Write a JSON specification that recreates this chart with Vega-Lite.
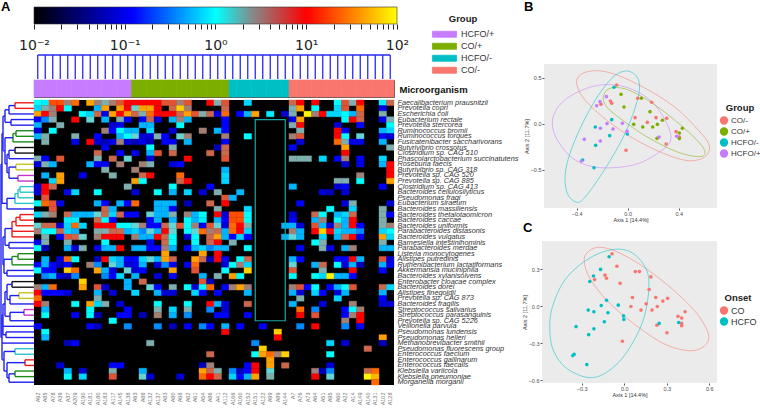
{"$schema":"https://vega.github.io/schema/vega-lite/v6.json","padding":0,"background":"white","config":{"font":"Liberation Sans","view":{"stroke":null},"axis":{"grid":false}},
"datasets":{
"samples":[{"s":"A92","g":"HCFO/+"},{"s":"A85","g":"HCFO/+"},{"s":"A78","g":"HCFO/+"},{"s":"A39","g":"HCFO/+"},{"s":"A37","g":"HCFO/+"},{"s":"A209","g":"HCFO/+"},{"s":"A190","g":"HCFO/+"},{"s":"A181","g":"HCFO/+"},{"s":"A180","g":"HCFO/+"},{"s":"A183","g":"HCFO/+"},{"s":"A117","g":"HCFO/+"},{"s":"A145","g":"HCFO/+"},{"s":"A138","g":"HCFO/+"},{"s":"A93","g":"CO/+"},{"s":"A88","g":"CO/+"},{"s":"A132","g":"CO/+"},{"s":"A137","g":"CO/+"},{"s":"A83","g":"CO/+"},{"s":"A80","g":"CO/+"},{"s":"A68","g":"CO/+"},{"s":"A62","g":"CO/+"},{"s":"A61","g":"CO/+"},{"s":"A54","g":"CO/+"},{"s":"A86","g":"CO/+"},{"s":"A41","g":"CO/+"},{"s":"A112","g":"CO/+"},{"s":"A166","g":"HCFO/-"},{"s":"A160","g":"HCFO/-"},{"s":"A152","g":"HCFO/-"},{"s":"A151","g":"HCFO/-"},{"s":"A122","g":"HCFO/-"},{"s":"A99","g":"HCFO/-"},{"s":"A89","g":"HCFO/-"},{"s":"A144","g":"HCFO/-"},{"s":"A7","g":"CO/-"},{"s":"A76","g":"CO/-"},{"s":"A73","g":"CO/-"},{"s":"A64","g":"CO/-"},{"s":"A51","g":"CO/-"},{"s":"A95","g":"CO/-"},{"s":"A60","g":"CO/-"},{"s":"A22","g":"CO/-"},{"s":"A14","g":"CO/-"},{"s":"A149","g":"CO/-"},{"s":"A140","g":"CO/-"},{"s":"A131","g":"CO/-"},{"s":"A102","g":"CO/-"},{"s":"A128","g":"CO/-"}],
"taxa":[{"r":1,"m":"Faecalibacterium prausnitzii"},{"r":2,"m":"Prevotella copri"},{"r":3,"m":"Escherichia coli"},{"r":4,"m":"Eubacterium rectale"},{"r":5,"m":"Prevotella stercorea"},{"r":6,"m":"Ruminococcus bromii"},{"r":7,"m":"Ruminococcus torques"},{"r":8,"m":"Fusicatenibacter saccharivorans"},{"r":9,"m":"Butyrivibrio crossotus"},{"r":10,"m":"Clostridium sp. CAG 510"},{"r":11,"m":"Phascolarctobacterium succinatutens"},{"r":12,"m":"Roseburia faecis"},{"r":13,"m":"Butyrivibrio sp. CAG 318"},{"r":14,"m":"Prevotella sp. CAG 520"},{"r":15,"m":"Prevotella sp. CAG 885"},{"r":16,"m":"Clostridium sp. CAG 413"},{"r":17,"m":"Bacteroides cellulosilyticus"},{"r":18,"m":"Pseudomonas fragi"},{"r":19,"m":"Eubacterium siraeum"},{"r":20,"m":"Bacteroides massiliensis"},{"r":21,"m":"Bacteroides thetaiotaomicron"},{"r":22,"m":"Bacteroides caccae"},{"r":23,"m":"Bacteroides uniformis"},{"r":24,"m":"Parabacteroides distasonis"},{"r":25,"m":"Bacteroides vulgatus"},{"r":26,"m":"Barnesiella intestinihominis"},{"r":27,"m":"Parabacteroides merdae"},{"r":28,"m":"Listeria monocytogenes"},{"r":29,"m":"Alistipes putredinis"},{"r":30,"m":"Ruthenibacterium lactatiformans"},{"r":31,"m":"Akkermansia muciniphila"},{"r":32,"m":"Bacteroides xylanisolvens"},{"r":33,"m":"Enterobacter cloacae complex"},{"r":34,"m":"Bacteroides dorei"},{"r":35,"m":"Alistipes finegoldii"},{"r":36,"m":"Prevotella sp. CAG 873"},{"r":37,"m":"Bacteroides fragilis"},{"r":38,"m":"Streptococcus salivarius"},{"r":39,"m":"Streptococcus parasanguinis"},{"r":40,"m":"Prevotella sp. CAG 5226"},{"r":41,"m":"Veillonella parvula"},{"r":42,"m":"Pseudomonas lundensis"},{"r":43,"m":"Pseudomonas helleri"},{"r":44,"m":"Methanobrevibacter smithii"},{"r":45,"m":"Pseudomonas fluorescens group"},{"r":46,"m":"Enterococcus faecium"},{"r":47,"m":"Enterococcus gallinarum"},{"r":48,"m":"Enterococcus faecalis"},{"r":49,"m":"Klebsiella variicola"},{"r":50,"m":"Klebsiella pneumoniae"},{"r":51,"m":"Morganella morganii"}],
"pts":[{"x":-0.086,"y":0.424,"g":"CO/-","o":"CO"},{"x":-0.209,"y":0.214,"g":"CO/-","o":"CO"},{"x":-0.136,"y":0.25,"g":"CO/-","o":"CO"},{"x":-0.125,"y":0.225,"g":"CO/-","o":"CO"},{"x":0.078,"y":0.279,"g":"CO/-","o":"CO"},{"x":0.188,"y":0.236,"g":"CO/-","o":"CO"},{"x":0.058,"y":0.069,"g":"CO/-","o":"CO"},{"x":0.222,"y":0.069,"g":"CO/-","o":"CO"},{"x":0.306,"y":0.062,"g":"CO/-","o":"CO"},{"x":0.154,"y":0.018,"g":"CO/-","o":"CO"},{"x":0.379,"y":-0.083,"g":"CO/-","o":"CO"},{"x":0.405,"y":-0.141,"g":"CO/-","o":"CO"},{"x":0.301,"y":-0.217,"g":"CO/-","o":"CO"},{"x":-0.013,"y":-0.286,"g":"CO/-","o":"CO"},{"x":-0.052,"y":0.322,"g":"CO/+","o":"CO"},{"x":0.107,"y":0.279,"g":"CO/+","o":"CO"},{"x":-0.029,"y":0.185,"g":"CO/+","o":"CO"},{"x":0.175,"y":0.134,"g":"CO/+","o":"CO"},{"x":0.272,"y":0.04,"g":"CO/+","o":"CO"},{"x":0.047,"y":-0.004,"g":"CO/+","o":"CO"},{"x":0.233,"y":-0.004,"g":"CO/+","o":"CO"},{"x":0.118,"y":-0.033,"g":"CO/+","o":"CO"},{"x":0.196,"y":-0.033,"g":"CO/+","o":"CO"},{"x":0.429,"y":-0.047,"g":"CO/+","o":"CO"},{"x":0.405,"y":-0.098,"g":"CO/+","o":"CO"},{"x":0.23,"y":-0.156,"g":"CO/+","o":"CO"},{"x":0.405,"y":-0.159,"g":"CO/+","o":"CO"},{"x":-0.107,"y":0.399,"g":"HCFO/-","o":"HCFO"},{"x":-0.125,"y":0.047,"g":"HCFO/-","o":"HCFO"},{"x":-0.254,"y":-0.033,"g":"HCFO/-","o":"HCFO"},{"x":-0.141,"y":-0.127,"g":"HCFO/-","o":"HCFO"},{"x":-0.003,"y":-0.109,"g":"HCFO/-","o":"HCFO"},{"x":-0.251,"y":-0.232,"g":"HCFO/-","o":"HCFO"},{"x":-0.353,"y":-0.391,"g":"HCFO/-","o":"HCFO"},{"x":-0.264,"y":-0.475,"g":"HCFO/-","o":"HCFO"},{"x":-0.217,"y":0.243,"g":"HCFO/+","o":"HCFO"},{"x":-0.167,"y":0.297,"g":"HCFO/+","o":"HCFO"},{"x":-0.243,"y":0.199,"g":"HCFO/+","o":"HCFO"},{"x":-0.162,"y":0.004,"g":"HCFO/+","o":"HCFO"},{"x":-0.042,"y":0.007,"g":"HCFO/+","o":"HCFO"},{"x":-0.214,"y":-0.047,"g":"HCFO/+","o":"HCFO"},{"x":-0.115,"y":-0.054,"g":"HCFO/+","o":"HCFO"},{"x":-0.005,"y":-0.08,"g":"HCFO/+","o":"HCFO"},{"x":-0.214,"y":-0.185,"g":"HCFO/+","o":"HCFO"},{"x":-0.34,"y":-0.167,"g":"HCFO/+","o":"HCFO"},{"x":-0.363,"y":-0.402,"g":"HCFO/+","o":"HCFO"},{"x":0.246,"y":-0.141,"g":"HCFO/+","o":"HCFO"},{"x":0.384,"y":-0.134,"g":"HCFO/+","o":"HCFO"}]
},
"spacing":0,"bounds":"flush","resolve":{"scale":{"color":"independent","stroke":"independent"}},"hconcat":[
{"spacing":0,"bounds":"flush","resolve":{"scale":{"color":"independent","stroke":"independent"}},"vconcat":[
 {"title":{"text":"A","fontSize":13,"fontWeight":"bold","anchor":"start","offset":-14,"dx":1,"color":"black"},"width":34,"height":100,"data":{"values":[{}]},"mark":{"type":"point","opacity":0},"encoding":{}},
 {"width":34,"height":285,"data":{"values":[
{"a":15,"b":15,"p":1,"q":2,"c":"red"},{"a":15,"b":34,"p":1,"q":1,"c":"red"},{"a":15,"b":34,"p":2,"q":2,"c":"red"},
{"a":9,"b":15,"p":1.5,"q":1.5,"c":"blue"},{"a":9,"b":9,"p":1.5,"q":3,"c":"blue"},{"a":9,"b":34,"p":3,"q":3,"c":"blue"},{"a":11,"b":11,"p":4,"q":5,"c":"blue"},{"a":11,"b":34,"p":4,"q":4,"c":"blue"},{"a":11,"b":34,"p":5,"q":5,"c":"blue"},{"a":5,"b":5,"p":2.25,"q":4.5,"c":"blue"},{"a":5,"b":9,"p":2.25,"q":2.25,"c":"blue"},{"a":5,"b":11,"p":4.5,"q":4.5,"c":"blue"},
{"a":16,"b":16,"p":6,"q":7,"c":"green"},{"a":16,"b":34,"p":6,"q":6,"c":"green"},{"a":16,"b":34,"p":7,"q":7,"c":"green"},{"a":13,"b":16,"p":6.5,"q":6.5,"c":"green"},{"a":13,"b":13,"p":6.5,"q":8,"c":"green"},{"a":13,"b":34,"p":8,"q":8,"c":"green"},
{"a":15,"b":15,"p":9,"q":10,"c":"black"},{"a":15,"b":34,"p":9,"q":9,"c":"black"},{"a":15,"b":34,"p":10,"q":10,"c":"black"},{"a":9,"b":15,"p":9.5,"q":9.5,"c":"blue"},{"a":9,"b":9,"p":9.5,"q":11,"c":"blue"},{"a":9,"b":34,"p":11,"q":11,"c":"blue"},
{"a":16,"b":16,"p":12,"q":13,"c":"olive"},{"a":16,"b":34,"p":12,"q":12,"c":"olive"},{"a":16,"b":34,"p":13,"q":13,"c":"olive"},{"a":18,"b":18,"p":14,"q":15,"c":"magenta"},{"a":18,"b":34,"p":14,"q":14,"c":"magenta"},{"a":18,"b":34,"p":15,"q":15,"c":"magenta"},{"a":9,"b":9,"p":12.5,"q":14.5,"c":"blue"},{"a":9,"b":16,"p":12.5,"q":12.5,"c":"blue"},{"a":9,"b":18,"p":14.5,"q":14.5,"c":"blue"},
{"a":7,"b":7,"p":10.25,"q":13.5,"c":"blue"},{"a":7,"b":9,"p":10.25,"q":10.25,"c":"blue"},{"a":7,"b":9,"p":13.5,"q":13.5,"c":"blue"},{"a":5,"b":5,"p":7.25,"q":11.9,"c":"blue"},{"a":5,"b":13,"p":7.25,"q":7.25,"c":"blue"},{"a":5,"b":7,"p":11.9,"q":11.9,"c":"blue"},{"a":3,"b":3,"p":3.4,"q":9.6,"c":"blue"},{"a":3,"b":5,"p":3.4,"q":3.4,"c":"blue"},{"a":3,"b":5,"p":9.6,"q":9.6,"c":"blue"},
{"a":20,"b":20,"p":16,"q":17,"c":"cyan"},{"a":20,"b":34,"p":16,"q":16,"c":"cyan"},{"a":20,"b":34,"p":17,"q":17,"c":"cyan"},{"a":18,"b":20,"p":16.5,"q":16.5,"c":"cyan"},{"a":18,"b":18,"p":16.5,"q":18,"c":"cyan"},{"a":18,"b":34,"p":18,"q":18,"c":"cyan"},{"a":15,"b":18,"p":17.25,"q":17.25,"c":"cyan"},{"a":15,"b":15,"p":17.25,"q":19,"c":"cyan"},{"a":15,"b":34,"p":19,"q":19,"c":"cyan"},{"a":7,"b":15,"p":18.1,"q":18.1,"c":"blue"},{"a":7,"b":7,"p":18.1,"q":20,"c":"blue"},{"a":7,"b":34,"p":20,"q":20,"c":"blue"},{"a":2,"b":2,"p":6.5,"q":19,"c":"blue"},{"a":2,"b":3,"p":6.5,"q":6.5,"c":"blue"},{"a":2,"b":7,"p":19,"q":19,"c":"blue"},
{"a":20,"b":20,"p":21,"q":22,"c":"red"},{"a":20,"b":34,"p":21,"q":21,"c":"red"},{"a":20,"b":34,"p":22,"q":22,"c":"red"},{"a":16,"b":20,"p":21.5,"q":21.5,"c":"red"},{"a":16,"b":16,"p":21.5,"q":23,"c":"red"},{"a":16,"b":34,"p":23,"q":23,"c":"red"},{"a":12,"b":16,"p":22.25,"q":22.25,"c":"red"},{"a":12,"b":12,"p":22.25,"q":25,"c":"red"},{"a":12,"b":34,"p":24,"q":24,"c":"red"},{"a":12,"b":34,"p":25,"q":25,"c":"red"},
{"a":9,"b":9,"p":26,"q":27,"c":"blue"},{"a":9,"b":34,"p":26,"q":26,"c":"blue"},{"a":9,"b":34,"p":27,"q":27,"c":"blue"},{"a":5,"b":5,"p":23.5,"q":26.5,"c":"blue"},{"a":5,"b":12,"p":23.5,"q":23.5,"c":"blue"},{"a":5,"b":9,"p":26.5,"q":26.5,"c":"blue"},
{"a":18,"b":18,"p":28,"q":29,"c":"green"},{"a":18,"b":34,"p":28,"q":28,"c":"green"},{"a":18,"b":34,"p":29,"q":29,"c":"green"},{"a":12,"b":18,"p":28.5,"q":28.5,"c":"green"},{"a":12,"b":12,"p":28.5,"q":30,"c":"green"},{"a":12,"b":34,"p":30,"q":30,"c":"green"},
{"a":7,"b":7,"p":31,"q":32,"c":"blue"},{"a":7,"b":34,"p":31,"q":31,"c":"blue"},{"a":7,"b":34,"p":32,"q":32,"c":"blue"},{"a":4,"b":4,"p":29,"q":31.5,"c":"blue"},{"a":4,"b":12,"p":29,"q":29,"c":"blue"},{"a":4,"b":7,"p":31.5,"q":31.5,"c":"blue"},{"a":3,"b":3,"p":25,"q":30,"c":"blue"},{"a":3,"b":5,"p":25,"q":25,"c":"blue"},{"a":3,"b":4,"p":30,"q":30,"c":"blue"},
{"a":12,"b":12,"p":33,"q":34,"c":"black"},{"a":12,"b":34,"p":33,"q":33,"c":"black"},{"a":12,"b":34,"p":34,"q":34,"c":"black"},{"a":19,"b":19,"p":35,"q":36,"c":"olive"},{"a":19,"b":34,"p":35,"q":35,"c":"olive"},{"a":19,"b":34,"p":36,"q":36,"c":"olive"},{"a":10,"b":10,"p":35.5,"q":37,"c":"blue"},{"a":10,"b":19,"p":35.5,"q":35.5,"c":"blue"},{"a":10,"b":34,"p":37,"q":37,"c":"blue"},{"a":7,"b":7,"p":33.5,"q":36.2,"c":"blue"},{"a":7,"b":12,"p":33.5,"q":33.5,"c":"blue"},{"a":7,"b":10,"p":36.2,"q":36.2,"c":"blue"},
{"a":24,"b":24,"p":38,"q":39,"c":"magenta"},{"a":24,"b":34,"p":38,"q":38,"c":"magenta"},{"a":24,"b":34,"p":39,"q":39,"c":"magenta"},{"a":10,"b":10,"p":38.5,"q":40,"c":"blue"},{"a":10,"b":24,"p":38.5,"q":38.5,"c":"blue"},{"a":10,"b":34,"p":40,"q":40,"c":"blue"},{"a":5,"b":5,"p":34.8,"q":39.2,"c":"blue"},{"a":5,"b":7,"p":34.8,"q":34.8,"c":"blue"},{"a":5,"b":10,"p":39.2,"q":39.2,"c":"blue"},
{"a":3,"b":34,"p":41,"q":41,"c":"blue"},{"a":6,"b":6,"p":42,"q":43,"c":"blue"},{"a":6,"b":34,"p":42,"q":42,"c":"blue"},{"a":6,"b":34,"p":43,"q":43,"c":"blue"},{"a":3,"b":3,"p":37,"q":42.5,"c":"blue"},{"a":3,"b":5,"p":37,"q":37,"c":"blue"},{"a":3,"b":6,"p":42.5,"q":42.5,"c":"blue"},
{"a":2,"b":34,"p":44,"q":44,"c":"blue"},{"a":15,"b":15,"p":45,"q":46,"c":"cyan"},{"a":15,"b":34,"p":45,"q":45,"c":"cyan"},{"a":15,"b":34,"p":46,"q":46,"c":"cyan"},{"a":25,"b":25,"p":47,"q":48,"c":"red"},{"a":25,"b":34,"p":47,"q":47,"c":"red"},{"a":25,"b":34,"p":48,"q":48,"c":"red"},{"a":15,"b":15,"p":49,"q":50,"c":"green"},{"a":15,"b":34,"p":49,"q":49,"c":"green"},{"a":15,"b":34,"p":50,"q":50,"c":"green"},{"a":9,"b":9,"p":49.5,"q":51,"c":"blue"},{"a":9,"b":15,"p":49.5,"q":49.5,"c":"blue"},{"a":9,"b":34,"p":51,"q":51,"c":"blue"},{"a":7,"b":7,"p":47.5,"q":50.2,"c":"blue"},{"a":7,"b":25,"p":47.5,"q":47.5,"c":"blue"},{"a":7,"b":9,"p":50.2,"q":50.2,"c":"blue"},{"a":4,"b":4,"p":45.5,"q":49,"c":"blue"},{"a":4,"b":15,"p":45.5,"q":45.5,"c":"blue"},{"a":4,"b":7,"p":49,"q":49,"c":"blue"},{"a":2,"b":2,"p":39,"q":47,"c":"blue"},{"a":2,"b":3,"p":39,"q":39,"c":"blue"},{"a":2,"b":4,"p":47,"q":47,"c":"blue"},{"a":1,"b":1,"p":12,"q":43,"c":"blue"},{"a":1,"b":2,"p":12,"q":12,"c":"blue"},{"a":1,"b":2,"p":43,"q":43,"c":"blue"}
 ]},"mark":{"type":"rule","strokeWidth":1.4},"encoding":{"x":{"field":"a","type":"quantitative","scale":{"domain":[0,34]},"axis":null},"x2":{"field":"b"},"y":{"field":"p","type":"quantitative","scale":{"domain":[51.5,0.5]},"axis":null},"y2":{"field":"q"},"color":{"field":"c","type":"nominal","legend":null,"scale":{"domain":["blue","red","green","black","olive","magenta","cyan"],"range":["#2020f0","#f01a1a","#1a8c1a","#111111","#c4c41e","#c832c8","#2cc4c8"]}}}}
]},
{"width":34,"height":10,"data":{"values":[{}]},"mark":{"type":"point","opacity":0},"encoding":{}},
{"spacing":0,"bounds":"flush","resolve":{"scale":{"color":"independent","stroke":"independent"}},"vconcat":[
 {"width":363,"height":7,"data":{"values":[{}]},"mark":{"type":"point","opacity":0},"encoding":{}},
 {"width":363,"height":17,"data":{"values":[{"lo":0.01,"hi":100}]},"mark":{"type":"rect","stroke":"#333","strokeWidth":0.6,"color":{"gradient":"linear","x1":0,"x2":1,"y1":0,"y2":0,"stops":[{"offset":0,"color":"#000000"},{"offset":0.27,"color":"#0000ff"},{"offset":0.5,"color":"#00ffff"},{"offset":0.603,"color":"#888888"},{"offset":0.75,"color":"#ff0000"},{"offset":1,"color":"#ffff00"}]}},"encoding":{"x":{"field":"lo","type":"quantitative","scale":{"type":"log","domain":[0.01,100]},"axis":{"title":null,"domain":false,"tickSize":5,"tickColor":"#222","values":[0.01,0.02,0.03,0.04,0.05,0.06,0.07,0.08,0.09,0.1,0.2,0.3,0.4,0.5,0.6,0.7,0.8,0.9,1,2,3,4,5,6,7,8,9,10,20,30,40,50,60,70,80,90,100],"labelExpr":"datum.value==0.01?'10⁻²':datum.value==0.1?'10⁻¹':datum.value==1?'10⁰':datum.value==10?'10¹':datum.value==100?'10²':''","labelFontSize":14,"labelFont":"DejaVu Sans","labelColor":"#222","labelPadding":9,"labelOverlap":false,"labelFlush":false,"encoding":{"ticks":{"update":{"y2":{"signal":"abs(log(datum.value)/LN10-round(log(datum.value)/LN10))<0.001?9:5"}}}}}},"x2":{"field":"hi"}}},
 {"width":363,"height":31,"data":{"values":[{}]},"mark":{"type":"point","opacity":0},"encoding":{}},
 {"width":360,"height":24,"layer":[
  {"data":{"name":"samples"},"mark":{"type":"rule","color":"#2a2af5","strokeWidth":1.3},"encoding":{"x":{"field":"s","type":"nominal","sort":null,"axis":null,"scale":{"paddingInner":0,"paddingOuter":0}}}},
  {"data":{"values":[{"a":"A92","b":"A128"}]},"mark":{"type":"rule","color":"#2a2af5","strokeWidth":1.3},"encoding":{"x":{"field":"a","type":"nominal","sort":null,"axis":null},"x2":{"field":"b"},"y":{"value":0}}}
 ]},
 {"width":360,"height":1,"data":{"values":[{}]},"mark":{"type":"point","opacity":0},"encoding":{}},
 {"width":360,"height":17,"view":{"stroke":"#555"},"data":{"name":"samples"},"mark":{"type":"rect","strokeWidth":0.6},"encoding":{"x":{"field":"s","type":"nominal","sort":null,"axis":null,"scale":{"paddingInner":0,"paddingOuter":0}},"stroke":{"field":"g","type":"nominal","legend":null,"scale":{"domain":["HCFO/+","CO/+","HCFO/-","CO/-"],"range":["#C77CFF","#7CAE00","#00BFC4","#F8766D"]}},"fill":{"field":"g","type":"nominal","scale":{"domain":["HCFO/+","CO/+","HCFO/-","CO/-"],"range":["#C77CFF","#7CAE00","#00BFC4","#F8766D"]},"legend":{"title":"Group","orient":"none","legendX":398,"legendY":-66,"titleFontSize":9.5,"titleFontWeight":"bold","titleColor":"#222","titlePadding":5,"titleAnchor":"middle","labelFontSize":9,"labelColor":"#333","symbolType":"M-1,-0.25H1V0.25H-1Z","symbolSize":576,"symbolOpacity":1,"symbolStrokeColor":"#444","symbolStrokeWidth":0.8,"labelOffset":4,"clipHeight":11.5,"rowPadding":0}}}},
 {"width":360,"height":3,"data":{"values":[{}]},"mark":{"type":"point","opacity":0},"encoding":{}},
 {"width":360,"height":285,"view":{"fill":"black"},"layer":[
  {"data":{"values":[
{"s":"A92","r":1,"v":1},{"s":"A85","r":1,"v":0.8},{"s":"A78","r":1,"v":14},{"s":"A39","r":1,"v":14},{"s":"A37","r":1,"v":3.2},{"s":"A209","r":1,"v":18},{"s":"A181","r":1,"v":32},{"s":"A180","r":1,"v":3.2},{"s":"A183","r":1,"v":1.9},{"s":"A117","r":1,"v":3.5},{"s":"A145","r":1,"v":6.5},{"s":"A138","r":1,"v":10},{"s":"A93","r":1,"v":10},{"s":"A88","r":1,"v":10},{"s":"A132","r":1,"v":10},{"s":"A137","r":1,"v":10},{"s":"A83","r":1,"v":6.5},{"s":"A80","r":1,"v":6.5},{"s":"A68","r":1,"v":3.2},{"s":"A62","r":1,"v":6.5},{"s":"A86","r":1,"v":10},{"s":"A41","r":1,"v":1.9},{"s":"A112","r":1,"v":6.5},{"s":"A152","r":1,"v":0.59},{"s":"A7","r":1,"v":5},{"s":"A76","r":1,"v":10},{"s":"A64","r":1,"v":10},{"s":"A60","r":1,"v":1},{"s":"A22","r":1,"v":6.5},{"s":"A14","r":1,"v":1.9},{"s":"A149","r":1,"v":10},{"s":"A102","r":1,"v":0.8},{"s":"A128","r":1,"v":5},
{"s":"A92","r":2,"v":0.59},{"s":"A85","r":2,"v":1.9},{"s":"A78","r":2,"v":3.2},{"s":"A39","r":2,"v":10},{"s":"A37","r":2,"v":1},{"s":"A180","r":2,"v":0.4},{"s":"A183","r":2,"v":32},{"s":"A145","r":2,"v":32},{"s":"A138","r":2,"v":10},{"s":"A93","r":2,"v":1.4},{"s":"A88","r":2,"v":32},{"s":"A132","r":2,"v":32},{"s":"A137","r":2,"v":10},{"s":"A80","r":2,"v":5},{"s":"A68","r":2,"v":56},{"s":"A62","r":2,"v":3.2},{"s":"A112","r":2,"v":5},{"s":"A7","r":2,"v":1.9},{"s":"A76","r":2,"v":32},{"s":"A64","r":2,"v":1},{"s":"A60","r":2,"v":0.59},{"s":"A22","r":2,"v":6.5},{"s":"A149","r":2,"v":18},{"s":"A102","r":2,"v":0.065},
{"s":"A92","r":3,"v":32},{"s":"A85","r":3,"v":10},{"s":"A78","r":3,"v":3.2},{"s":"A190","r":3,"v":1},{"s":"A181","r":3,"v":0.59},{"s":"A180","r":3,"v":5},{"s":"A183","r":3,"v":0.065},{"s":"A117","r":3,"v":32},{"s":"A145","r":3,"v":10},{"s":"A138","r":3,"v":32},{"s":"A93","r":3,"v":5},{"s":"A88","r":3,"v":1.9},{"s":"A132","r":3,"v":18},{"s":"A137","r":3,"v":10},{"s":"A83","r":3,"v":10},{"s":"A80","r":3,"v":10},{"s":"A68","r":3,"v":5},{"s":"A62","r":3,"v":32},{"s":"A61","r":3,"v":6.5},{"s":"A54","r":3,"v":1.9},{"s":"A86","r":3,"v":5},{"s":"A41","r":3,"v":0.065},{"s":"A112","r":3,"v":18},{"s":"A160","r":3,"v":0.12},{"s":"A152","r":3,"v":0.4},{"s":"A151","r":3,"v":32},{"s":"A99","r":3,"v":0.8},{"s":"A144","r":3,"v":0.035},{"s":"A7","r":3,"v":1.9},{"s":"A73","r":3,"v":90},{"s":"A64","r":3,"v":3.2},{"s":"A51","r":3,"v":10},{"s":"A95","r":3,"v":0.59},{"s":"A60","r":3,"v":0.59},{"s":"A22","r":3,"v":1},{"s":"A14","r":3,"v":0.4},{"s":"A149","r":3,"v":5},{"s":"A102","r":3,"v":1.9},
{"s":"A92","r":4,"v":0.12},{"s":"A85","r":4,"v":0.26},{"s":"A78","r":4,"v":1.9},{"s":"A209","r":4,"v":10},{"s":"A181","r":4,"v":1.4},{"s":"A183","r":4,"v":0.4},{"s":"A145","r":4,"v":1.9},{"s":"A138","r":4,"v":0.065},{"s":"A88","r":4,"v":0.12},{"s":"A132","r":4,"v":5},{"s":"A137","r":4,"v":0.035},{"s":"A80","r":4,"v":0.4},{"s":"A68","r":4,"v":3.2},{"s":"A62","r":4,"v":0.4},{"s":"A112","r":4,"v":0.12},{"s":"A7","r":4,"v":0.065},{"s":"A76","r":4,"v":32},{"s":"A22","r":4,"v":1},{"s":"A14","r":4,"v":10},{"s":"A149","r":4,"v":5},{"s":"A102","r":4,"v":0.065},{"s":"A128","r":4,"v":1.9},
{"s":"A92","r":5,"v":0.4},{"s":"A39","r":5,"v":1.9},{"s":"A117","r":5,"v":0.035},{"s":"A145","r":5,"v":0.065},{"s":"A88","r":5,"v":0.4},{"s":"A132","r":5,"v":0.4},{"s":"A68","r":5,"v":1},{"s":"A112","r":5,"v":0.12},{"s":"A7","r":5,"v":1.9},{"s":"A76","r":5,"v":10},{"s":"A60","r":5,"v":0.035},{"s":"A149","r":5,"v":0.12},{"s":"A128","r":5,"v":1},
{"s":"A92","r":6,"v":0.035},{"s":"A78","r":6,"v":1},{"s":"A183","r":6,"v":3.2},{"s":"A117","r":6,"v":0.12},{"s":"A145","r":6,"v":1},{"s":"A138","r":6,"v":0.4},{"s":"A93","r":6,"v":0.4},{"s":"A132","r":6,"v":0.59},{"s":"A80","r":6,"v":0.035},{"s":"A54","r":6,"v":3.2},{"s":"A41","r":6,"v":0.4},{"s":"A112","r":6,"v":0.12},{"s":"A76","r":6,"v":1.9},{"s":"A60","r":6,"v":10},{"s":"A22","r":6,"v":0.12},{"s":"A102","r":6,"v":0.4},{"s":"A128","r":6,"v":0.59},
{"s":"A92","r":7,"v":0.4},{"s":"A85","r":7,"v":1.9},{"s":"A209","r":7,"v":1.9},{"s":"A180","r":7,"v":0.12},{"s":"A145","r":7,"v":0.4},{"s":"A138","r":7,"v":1},{"s":"A93","r":7,"v":1.4},{"s":"A88","r":7,"v":0.035},{"s":"A132","r":7,"v":0.035},{"s":"A137","r":7,"v":1.9},{"s":"A83","r":7,"v":0.12},{"s":"A68","r":7,"v":1.4},{"s":"A62","r":7,"v":3.2},{"s":"A112","r":7,"v":3.2},{"s":"A152","r":7,"v":1},{"s":"A7","r":7,"v":3.2},{"s":"A76","r":7,"v":6.5},{"s":"A60","r":7,"v":10},{"s":"A22","r":7,"v":1},{"s":"A149","r":7,"v":1.4},{"s":"A102","r":7,"v":0.12},{"s":"A128","r":7,"v":0.035},
{"s":"A85","r":8,"v":1.9},{"s":"A209","r":8,"v":0.065},{"s":"A181","r":8,"v":10},{"s":"A180","r":8,"v":0.035},{"s":"A183","r":8,"v":0.016},{"s":"A117","r":8,"v":0.065},{"s":"A145","r":8,"v":3.2},{"s":"A138","r":8,"v":0.035},{"s":"A93","r":8,"v":0.016},{"s":"A88","r":8,"v":0.065},{"s":"A132","r":8,"v":0.016},{"s":"A83","r":8,"v":0.12},{"s":"A80","r":8,"v":0.12},{"s":"A62","r":8,"v":0.4},{"s":"A112","r":8,"v":0.12},{"s":"A76","r":8,"v":0.035},{"s":"A60","r":8,"v":18},{"s":"A22","r":8,"v":1.9},{"s":"A14","r":8,"v":0.065},{"s":"A149","r":8,"v":0.065},{"s":"A102","r":8,"v":0.4},
{"s":"A183","r":9,"v":0.12},{"s":"A132","r":9,"v":1},{"s":"A80","r":9,"v":1.9},{"s":"A41","r":9,"v":0.016},{"s":"A112","r":9,"v":5},{"s":"A7","r":9,"v":0.12},{"s":"A22","r":9,"v":32},{"s":"A128","r":9,"v":1.9},
{"s":"A180","r":10,"v":5},{"s":"A145","r":10,"v":0.12},{"s":"A93","r":10,"v":0.065},{"s":"A132","r":10,"v":0.4},{"s":"A137","r":10,"v":6.5},{"s":"A80","r":10,"v":5},{"s":"A86","r":10,"v":5},{"s":"A112","r":10,"v":5},{"s":"A22","r":10,"v":10},
{"s":"A92","r":11,"v":1.9},{"s":"A85","r":11,"v":0.12},{"s":"A39","r":11,"v":6.5},{"s":"A180","r":11,"v":1.9},{"s":"A117","r":11,"v":5},{"s":"A138","r":11,"v":1.4},{"s":"A132","r":11,"v":0.035},{"s":"A62","r":11,"v":10},{"s":"A112","r":11,"v":6.5},{"s":"A7","r":11,"v":1.9},{"s":"A76","r":11,"v":1.9},{"s":"A73","r":11,"v":1.9},{"s":"A51","r":11,"v":0.59},{"s":"A60","r":11,"v":0.12},{"s":"A22","r":11,"v":3.2},{"s":"A149","r":11,"v":0.12},{"s":"A102","r":11,"v":0.59},
{"s":"A92","r":12,"v":0.035},{"s":"A85","r":12,"v":1.9},{"s":"A78","r":12,"v":0.4},{"s":"A181","r":12,"v":0.4},{"s":"A180","r":12,"v":0.12},{"s":"A183","r":12,"v":0.065},{"s":"A145","r":12,"v":3.2},{"s":"A88","r":12,"v":3.2},{"s":"A132","r":12,"v":1.9},{"s":"A80","r":12,"v":0.035},{"s":"A68","r":12,"v":0.12},{"s":"A22","r":12,"v":0.035},{"s":"A149","r":12,"v":0.065},{"s":"A102","r":12,"v":0.4},{"s":"A128","r":12,"v":10},
{"s":"A183","r":13,"v":1.9},{"s":"A93","r":13,"v":3.2},{"s":"A112","r":13,"v":0.4},{"s":"A128","r":13,"v":10},
{"s":"A85","r":14,"v":0.4},{"s":"A39","r":14,"v":32},{"s":"A190","r":14,"v":0.065},{"s":"A117","r":14,"v":1.9},{"s":"A88","r":14,"v":5},{"s":"A132","r":14,"v":10},{"s":"A68","r":14,"v":18},{"s":"A112","r":14,"v":0.59},{"s":"A149","r":14,"v":3.2},{"s":"A128","r":14,"v":10},
{"s":"A78","r":15,"v":0.59},{"s":"A39","r":15,"v":32},{"s":"A93","r":15,"v":32},{"s":"A88","r":15,"v":1},{"s":"A68","r":15,"v":5},{"s":"A62","r":15,"v":10},{"s":"A112","r":15,"v":0.59},{"s":"A60","r":15,"v":1.9},{"s":"A22","r":15,"v":1.9},{"s":"A149","r":15,"v":1},{"s":"A128","r":15,"v":32},
{"s":"A92","r":16,"v":0.035},{"s":"A85","r":16,"v":10},{"s":"A78","r":16,"v":5},{"s":"A138","r":16,"v":1.9},{"s":"A80","r":16,"v":1},{"s":"A86","r":16,"v":0.12},{"s":"A7","r":16,"v":0.4},{"s":"A60","r":16,"v":0.035},{"s":"A22","r":16,"v":0.12},{"s":"A102","r":16,"v":0.12},
{"s":"A92","r":17,"v":0.035},{"s":"A85","r":17,"v":10},{"s":"A37","r":17,"v":0.065},{"s":"A209","r":17,"v":0.59},{"s":"A180","r":17,"v":1},{"s":"A93","r":17,"v":0.035},{"s":"A137","r":17,"v":1},{"s":"A80","r":17,"v":0.4},{"s":"A62","r":17,"v":0.59},{"s":"A54","r":17,"v":0.035},{"s":"A41","r":17,"v":1.9},{"s":"A160","r":17,"v":0.4},{"s":"A51","r":17,"v":0.035},{"s":"A95","r":17,"v":0.016},{"s":"A22","r":17,"v":0.035},
{"s":"A85","r":18,"v":6.5},{"s":"A112","r":18,"v":6.5},{"s":"A166","r":18,"v":0.4},
{"s":"A92","r":19,"v":1},{"s":"A85","r":19,"v":18},{"s":"A78","r":19,"v":6.5},{"s":"A39","r":19,"v":0.065},{"s":"A180","r":19,"v":0.4},{"s":"A183","r":19,"v":0.12},{"s":"A145","r":19,"v":0.4},{"s":"A138","r":19,"v":0.12},{"s":"A93","r":19,"v":18},{"s":"A137","r":19,"v":0.4},{"s":"A83","r":19,"v":0.4},{"s":"A80","r":19,"v":0.4},{"s":"A62","r":19,"v":0.016},{"s":"A86","r":19,"v":5},{"s":"A112","r":19,"v":10},{"s":"A76","r":19,"v":0.12},{"s":"A22","r":19,"v":0.035},{"s":"A14","r":19,"v":1.9},{"s":"A128","r":19,"v":0.035},
{"s":"A78","r":20,"v":6.5},{"s":"A183","r":20,"v":5},{"s":"A117","r":20,"v":0.4},{"s":"A137","r":20,"v":0.4},{"s":"A83","r":20,"v":0.4},{"s":"A80","r":20,"v":0.12},{"s":"A41","r":20,"v":1.9},{"s":"A152","r":20,"v":0.59},{"s":"A95","r":20,"v":1},{"s":"A14","r":20,"v":0.59},{"s":"A102","r":20,"v":1.9},
{"s":"A92","r":21,"v":0.59},{"s":"A85","r":21,"v":1.9},{"s":"A78","r":21,"v":3.2},{"s":"A37","r":21,"v":5},{"s":"A209","r":21,"v":0.4},{"s":"A190","r":21,"v":0.4},{"s":"A181","r":21,"v":0.4},{"s":"A180","r":21,"v":1.4},{"s":"A183","r":21,"v":5},{"s":"A117","r":21,"v":0.59},{"s":"A145","r":21,"v":5},{"s":"A138","r":21,"v":0.12},{"s":"A93","r":21,"v":0.12},{"s":"A132","r":21,"v":1.4},{"s":"A137","r":21,"v":0.4},{"s":"A83","r":21,"v":0.4},{"s":"A80","r":21,"v":1.9},{"s":"A62","r":21,"v":3.2},{"s":"A61","r":21,"v":0.4},{"s":"A54","r":21,"v":1},{"s":"A41","r":21,"v":10},{"s":"A112","r":21,"v":0.035},{"s":"A166","r":21,"v":14},{"s":"A160","r":21,"v":14},{"s":"A152","r":21,"v":1},{"s":"A7","r":21,"v":0.035},{"s":"A64","r":21,"v":5},{"s":"A51","r":21,"v":1},{"s":"A60","r":21,"v":0.4},{"s":"A22","r":21,"v":0.59},{"s":"A14","r":21,"v":5},{"s":"A102","r":21,"v":1.9},{"s":"A128","r":21,"v":0.12},
{"s":"A37","r":22,"v":0.8},{"s":"A209","r":22,"v":0.8},{"s":"A180","r":22,"v":5},{"s":"A183","r":22,"v":1},{"s":"A117","r":22,"v":0.12},{"s":"A132","r":22,"v":0.12},{"s":"A137","r":22,"v":0.4},{"s":"A80","r":22,"v":0.4},{"s":"A62","r":22,"v":1},{"s":"A61","r":22,"v":0.4},{"s":"A54","r":22,"v":0.8},{"s":"A41","r":22,"v":0.4},{"s":"A112","r":22,"v":0.12},{"s":"A166","r":22,"v":14},{"s":"A160","r":22,"v":14},{"s":"A152","r":22,"v":1},{"s":"A7","r":22,"v":0.12},{"s":"A64","r":22,"v":0.4},{"s":"A51","r":22,"v":3.2},{"s":"A60","r":22,"v":1},{"s":"A22","r":22,"v":0.4},{"s":"A14","r":22,"v":10},{"s":"A102","r":22,"v":1.9},
{"s":"A92","r":23,"v":1.4},{"s":"A85","r":23,"v":5},{"s":"A78","r":23,"v":5},{"s":"A39","r":23,"v":0.035},{"s":"A37","r":23,"v":0.59},{"s":"A209","r":23,"v":18},{"s":"A190","r":23,"v":0.59},{"s":"A180","r":23,"v":10},{"s":"A183","r":23,"v":10},{"s":"A117","r":23,"v":10},{"s":"A145","r":23,"v":1},{"s":"A138","r":23,"v":1},{"s":"A93","r":23,"v":1.4},{"s":"A88","r":23,"v":3.2},{"s":"A132","r":23,"v":0.12},{"s":"A137","r":23,"v":0.12},{"s":"A83","r":23,"v":5},{"s":"A80","r":23,"v":1.4},{"s":"A68","r":23,"v":6.5},{"s":"A62","r":23,"v":1},{"s":"A61","r":23,"v":3.2},{"s":"A54","r":23,"v":0.065},{"s":"A86","r":23,"v":6.5},{"s":"A41","r":23,"v":1.4},{"s":"A112","r":23,"v":0.035},{"s":"A166","r":23,"v":18},{"s":"A160","r":23,"v":10},{"s":"A152","r":23,"v":1.9},{"s":"A144","r":23,"v":0.4},{"s":"A7","r":23,"v":0.4},{"s":"A76","r":23,"v":0.035},{"s":"A64","r":23,"v":6.5},{"s":"A51","r":23,"v":0.4},{"s":"A95","r":23,"v":0.035},{"s":"A60","r":23,"v":3.2},{"s":"A22","r":23,"v":0.4},{"s":"A14","r":23,"v":10},{"s":"A149","r":23,"v":0.12},{"s":"A102","r":23,"v":1.9},{"s":"A128","r":23,"v":3.2},
{"s":"A92","r":24,"v":3.2},{"s":"A85","r":24,"v":1},{"s":"A78","r":24,"v":1},{"s":"A39","r":24,"v":5},{"s":"A37","r":24,"v":0.59},{"s":"A209","r":24,"v":0.4},{"s":"A180","r":24,"v":1.9},{"s":"A183","r":24,"v":1.9},{"s":"A117","r":24,"v":5},{"s":"A145","r":24,"v":5},{"s":"A138","r":24,"v":0.4},{"s":"A93","r":24,"v":0.59},{"s":"A88","r":24,"v":0.26},{"s":"A132","r":24,"v":1.4},{"s":"A137","r":24,"v":0.4},{"s":"A83","r":24,"v":10},{"s":"A80","r":24,"v":1.4},{"s":"A62","r":24,"v":1},{"s":"A61","r":24,"v":1.4},{"s":"A54","r":24,"v":18},{"s":"A86","r":24,"v":3.2},{"s":"A41","r":24,"v":5},{"s":"A112","r":24,"v":0.4},{"s":"A166","r":24,"v":18},{"s":"A160","r":24,"v":10},{"s":"A152","r":24,"v":0.59},{"s":"A7","r":24,"v":3.2},{"s":"A76","r":24,"v":0.4},{"s":"A64","r":24,"v":10},{"s":"A51","r":24,"v":56},{"s":"A95","r":24,"v":10},{"s":"A60","r":24,"v":0.59},{"s":"A22","r":24,"v":0.4},{"s":"A14","r":24,"v":0.4},{"s":"A149","r":24,"v":0.26},{"s":"A102","r":24,"v":0.59},{"s":"A128","r":24,"v":1},
{"s":"A85","r":25,"v":1.9},{"s":"A39","r":25,"v":0.12},{"s":"A37","r":25,"v":6.5},{"s":"A209","r":25,"v":5},{"s":"A190","r":25,"v":1.4},{"s":"A180","r":25,"v":3.2},{"s":"A183","r":25,"v":10},{"s":"A117","r":25,"v":10},{"s":"A145","r":25,"v":10},{"s":"A93","r":25,"v":3.2},{"s":"A88","r":25,"v":0.4},{"s":"A132","r":25,"v":0.4},{"s":"A137","r":25,"v":10},{"s":"A83","r":25,"v":5},{"s":"A80","r":25,"v":1},{"s":"A62","r":25,"v":0.035},{"s":"A61","r":25,"v":1},{"s":"A86","r":25,"v":5},{"s":"A41","r":25,"v":32},{"s":"A112","r":25,"v":0.4},{"s":"A166","r":25,"v":0.12},{"s":"A160","r":25,"v":0.59},{"s":"A152","r":25,"v":0.12},{"s":"A144","r":25,"v":0.4},{"s":"A7","r":25,"v":1.4},{"s":"A76","r":25,"v":0.4},{"s":"A51","r":25,"v":0.59},{"s":"A60","r":25,"v":0.4},{"s":"A22","r":25,"v":5},{"s":"A14","r":25,"v":10},{"s":"A149","r":25,"v":0.065},{"s":"A102","r":25,"v":32},{"s":"A128","r":25,"v":0.59},
{"s":"A92","r":26,"v":0.065},{"s":"A85","r":26,"v":1.9},{"s":"A37","r":26,"v":1.9},{"s":"A183","r":26,"v":1},{"s":"A132","r":26,"v":0.065},{"s":"A83","r":26,"v":5},{"s":"A80","r":26,"v":1},{"s":"A61","r":26,"v":1},{"s":"A86","r":26,"v":5},{"s":"A41","r":26,"v":10},{"s":"A166","r":26,"v":1.9},{"s":"A64","r":26,"v":1},{"s":"A51","r":26,"v":1.9},{"s":"A102","r":26,"v":1.9},
{"s":"A92","r":27,"v":1},{"s":"A85","r":27,"v":0.016},{"s":"A37","r":27,"v":0.4},{"s":"A209","r":27,"v":0.035},{"s":"A190","r":27,"v":1.9},{"s":"A180","r":27,"v":0.065},{"s":"A183","r":27,"v":0.4},{"s":"A117","r":27,"v":0.4},{"s":"A145","r":27,"v":10},{"s":"A93","r":27,"v":0.4},{"s":"A88","r":27,"v":0.4},{"s":"A132","r":27,"v":0.12},{"s":"A137","r":27,"v":0.12},{"s":"A83","r":27,"v":3.2},{"s":"A80","r":27,"v":0.4},{"s":"A62","r":27,"v":0.12},{"s":"A61","r":27,"v":0.4},{"s":"A54","r":27,"v":0.59},{"s":"A86","r":27,"v":0.26},{"s":"A41","r":27,"v":0.4},{"s":"A112","r":27,"v":0.4},{"s":"A152","r":27,"v":1},{"s":"A76","r":27,"v":0.12},{"s":"A51","r":27,"v":1.9},{"s":"A95","r":27,"v":0.065},{"s":"A22","r":27,"v":0.4},{"s":"A14","r":27,"v":3.2},{"s":"A102","r":27,"v":0.4},{"s":"A128","r":27,"v":0.4},
{"s":"A83","r":28,"v":32},{"s":"A54","r":28,"v":32},{"s":"A41","r":28,"v":10},
{"s":"A85","r":29,"v":0.4},{"s":"A39","r":29,"v":0.035},{"s":"A37","r":29,"v":18},{"s":"A209","r":29,"v":1},{"s":"A180","r":29,"v":0.016},{"s":"A183","r":29,"v":10},{"s":"A117","r":29,"v":0.59},{"s":"A145","r":29,"v":0.4},{"s":"A138","r":29,"v":0.12},{"s":"A93","r":29,"v":0.12},{"s":"A88","r":29,"v":0.59},{"s":"A132","r":29,"v":1.4},{"s":"A137","r":29,"v":0.4},{"s":"A83","r":29,"v":32},{"s":"A80","r":29,"v":5},{"s":"A61","r":29,"v":32},{"s":"A54","r":29,"v":5},{"s":"A86","r":29,"v":0.016},{"s":"A41","r":29,"v":10},{"s":"A112","r":29,"v":0.065},{"s":"A160","r":29,"v":1},{"s":"A152","r":29,"v":5},{"s":"A7","r":29,"v":0.4},{"s":"A76","r":29,"v":0.12},{"s":"A60","r":29,"v":0.12},{"s":"A22","r":29,"v":0.12},{"s":"A14","r":29,"v":10},{"s":"A149","r":29,"v":0.4},{"s":"A102","r":29,"v":6.5},{"s":"A128","r":29,"v":0.035},
{"s":"A92","r":30,"v":0.12},{"s":"A85","r":30,"v":0.4},{"s":"A78","r":30,"v":0.12},{"s":"A39","r":30,"v":0.016},{"s":"A37","r":30,"v":0.12},{"s":"A181","r":30,"v":3.2},{"s":"A180","r":30,"v":0.26},{"s":"A117","r":30,"v":1.4},{"s":"A145","r":30,"v":0.4},{"s":"A138","r":30,"v":0.035},{"s":"A93","r":30,"v":0.065},{"s":"A88","r":30,"v":0.4},{"s":"A137","r":30,"v":0.035},{"s":"A83","r":30,"v":0.26},{"s":"A80","r":30,"v":0.065},{"s":"A62","r":30,"v":0.065},{"s":"A61","r":30,"v":18},{"s":"A112","r":30,"v":0.035},{"s":"A166","r":30,"v":1},{"s":"A160","r":30,"v":3.2},{"s":"A152","r":30,"v":0.59},{"s":"A7","r":30,"v":1.4},{"s":"A64","r":30,"v":0.4},{"s":"A51","r":30,"v":5},{"s":"A60","r":30,"v":1},{"s":"A22","r":30,"v":0.035},{"s":"A14","r":30,"v":0.4},{"s":"A149","r":30,"v":0.016},{"s":"A102","r":30,"v":0.4},{"s":"A128","r":30,"v":0.065},
{"s":"A92","r":31,"v":1},{"s":"A85","r":31,"v":0.12},{"s":"A78","r":31,"v":0.12},{"s":"A37","r":31,"v":56},{"s":"A209","r":31,"v":18},{"s":"A180","r":31,"v":32},{"s":"A183","r":31,"v":0.4},{"s":"A117","r":31,"v":0.035},{"s":"A138","r":31,"v":1.4},{"s":"A93","r":31,"v":0.035},{"s":"A88","r":31,"v":0.12},{"s":"A80","r":31,"v":32},{"s":"A61","r":31,"v":6.5},{"s":"A112","r":31,"v":1},{"s":"A152","r":31,"v":56},{"s":"A7","r":31,"v":6.5},{"s":"A51","r":31,"v":1.9},{"s":"A14","r":31,"v":10},{"s":"A102","r":31,"v":0.12},
{"s":"A85","r":32,"v":0.26},{"s":"A78","r":32,"v":0.4},{"s":"A39","r":32,"v":0.035},{"s":"A37","r":32,"v":0.016},{"s":"A209","r":32,"v":0.26},{"s":"A183","r":32,"v":0.26},{"s":"A117","r":32,"v":0.12},{"s":"A145","r":32,"v":0.59},{"s":"A93","r":32,"v":0.4},{"s":"A137","r":32,"v":0.035},{"s":"A80","r":32,"v":0.12},{"s":"A54","r":32,"v":0.4},{"s":"A41","r":32,"v":1.9},{"s":"A166","r":32,"v":32},{"s":"A160","r":32,"v":1},{"s":"A7","r":32,"v":1},{"s":"A64","r":32,"v":1},{"s":"A51","r":32,"v":0.59},{"s":"A95","r":32,"v":90},{"s":"A60","r":32,"v":0.4},{"s":"A22","r":32,"v":0.4},{"s":"A14","r":32,"v":0.12},
{"s":"A190","r":33,"v":56},{"s":"A138","r":33,"v":0.4},{"s":"A88","r":33,"v":5},{"s":"A54","r":33,"v":6.5},{"s":"A86","r":33,"v":0.016},
{"s":"A92","r":34,"v":3.2},{"s":"A85","r":34,"v":0.4},{"s":"A78","r":34,"v":18},{"s":"A190","r":34,"v":32},{"s":"A180","r":34,"v":6.5},{"s":"A183","r":34,"v":0.035},{"s":"A138","r":34,"v":0.4},{"s":"A132","r":34,"v":1.4},{"s":"A137","r":34,"v":0.12},{"s":"A80","r":34,"v":1.9},{"s":"A62","r":34,"v":1},{"s":"A61","r":34,"v":0.035},{"s":"A54","r":34,"v":1},{"s":"A86","r":34,"v":18},{"s":"A112","r":34,"v":0.12},{"s":"A166","r":34,"v":3.2},{"s":"A160","r":34,"v":32},{"s":"A152","r":34,"v":3.2},{"s":"A7","r":34,"v":3.2},{"s":"A76","r":34,"v":6.5},{"s":"A73","r":34,"v":0.12},{"s":"A64","r":34,"v":1},{"s":"A95","r":34,"v":0.12},{"s":"A60","r":34,"v":0.4},{"s":"A22","r":34,"v":1},{"s":"A14","r":34,"v":6.5},{"s":"A102","r":34,"v":5},{"s":"A128","r":34,"v":0.59},
{"s":"A92","r":35,"v":10},{"s":"A85","r":35,"v":0.12},{"s":"A78","r":35,"v":0.12},{"s":"A39","r":35,"v":0.12},{"s":"A37","r":35,"v":0.035},{"s":"A180","r":35,"v":0.4},{"s":"A117","r":35,"v":0.035},{"s":"A93","r":35,"v":0.59},{"s":"A137","r":35,"v":0.4},{"s":"A83","r":35,"v":0.035},{"s":"A80","r":35,"v":0.035},{"s":"A61","r":35,"v":0.59},{"s":"A54","r":35,"v":0.12},{"s":"A41","r":35,"v":0.12},{"s":"A152","r":35,"v":0.4},{"s":"A7","r":35,"v":0.4},{"s":"A76","r":35,"v":0.035},{"s":"A64","r":35,"v":0.59},{"s":"A51","r":35,"v":0.12},{"s":"A60","r":35,"v":0.035},{"s":"A22","r":35,"v":0.4},{"s":"A102","r":35,"v":0.4},
{"s":"A92","r":36,"v":18},{"s":"A180","r":36,"v":1.9},{"s":"A76","r":36,"v":1.9},{"s":"A60","r":36,"v":0.59},{"s":"A102","r":36,"v":0.12},
{"s":"A92","r":37,"v":10},{"s":"A85","r":37,"v":3.2},{"s":"A209","r":37,"v":1},{"s":"A181","r":37,"v":32},{"s":"A180","r":37,"v":0.59},{"s":"A183","r":37,"v":1.9},{"s":"A145","r":37,"v":0.035},{"s":"A137","r":37,"v":1},{"s":"A62","r":37,"v":1},{"s":"A86","r":37,"v":10},{"s":"A41","r":37,"v":0.4},{"s":"A112","r":37,"v":0.035},{"s":"A152","r":37,"v":5},{"s":"A7","r":37,"v":0.4},{"s":"A51","r":37,"v":0.035},{"s":"A14","r":37,"v":3.2},{"s":"A102","r":37,"v":0.035},{"s":"A128","r":37,"v":0.035},
{"s":"A85","r":38,"v":0.4},{"s":"A181","r":38,"v":1},{"s":"A138","r":38,"v":0.12},{"s":"A137","r":38,"v":1.9},{"s":"A80","r":38,"v":0.59},{"s":"A62","r":38,"v":1.9},{"s":"A86","r":38,"v":0.26},{"s":"A112","r":38,"v":0.035},{"s":"A76","r":38,"v":18},{"s":"A64","r":38,"v":0.26},{"s":"A22","r":38,"v":0.12},{"s":"A14","r":38,"v":1},{"s":"A149","r":38,"v":3.2},
{"s":"A85","r":39,"v":1},{"s":"A209","r":39,"v":0.12},{"s":"A181","r":39,"v":1},{"s":"A180","r":39,"v":0.016},{"s":"A145","r":39,"v":0.12},{"s":"A138","r":39,"v":0.12},{"s":"A88","r":39,"v":0.016},{"s":"A137","r":39,"v":3.2},{"s":"A80","r":39,"v":0.4},{"s":"A62","r":39,"v":0.26},{"s":"A41","r":39,"v":0.12},{"s":"A112","r":39,"v":0.12},{"s":"A152","r":39,"v":0.12},{"s":"A76","r":39,"v":10},{"s":"A64","r":39,"v":6.5},{"s":"A22","r":39,"v":0.12},{"s":"A14","r":39,"v":3.2},{"s":"A149","r":39,"v":10},
{"s":"A117","r":40,"v":1},{"s":"A22","r":40,"v":3.2},{"s":"A149","r":40,"v":10},
{"s":"A92","r":41,"v":0.12},{"s":"A181","r":41,"v":0.12},{"s":"A180","r":41,"v":0.016},{"s":"A138","r":41,"v":0.26},{"s":"A137","r":41,"v":0.26},{"s":"A80","r":41,"v":0.016},{"s":"A62","r":41,"v":0.12},{"s":"A54","r":41,"v":0.26},{"s":"A86","r":41,"v":0.12},{"s":"A112","r":41,"v":0.4},{"s":"A160","r":41,"v":0.12},{"s":"A122","r":41,"v":0.12},{"s":"A76","r":41,"v":0.26},{"s":"A64","r":41,"v":10},{"s":"A22","r":41,"v":0.26},{"s":"A149","r":41,"v":0.12},
{"s":"A85","r":42,"v":1},{"s":"A112","r":42,"v":10},{"s":"A89","r":42,"v":56},
{"s":"A85","r":43,"v":0.4},{"s":"A89","r":43,"v":10},{"s":"A102","r":43,"v":32},
{"s":"A37","r":44,"v":0.016},{"s":"A209","r":44,"v":0.12},{"s":"A132","r":44,"v":1.9},{"s":"A151","r":44,"v":0.26},{"s":"A95","r":44,"v":0.59},{"s":"A22","r":44,"v":0.035},{"s":"A102","r":44,"v":0.016},
{"s":"A122","r":45,"v":56},{"s":"A140","r":45,"v":5},
{"s":"A86","r":46,"v":5},{"s":"A151","r":46,"v":1},{"s":"A122","r":46,"v":32},{"s":"A99","r":46,"v":18},{"s":"A89","r":46,"v":3.2},{"s":"A144","r":46,"v":56},{"s":"A95","r":46,"v":1},
{"s":"A99","r":47,"v":32},
{"s":"A39","r":48,"v":0.035},{"s":"A117","r":48,"v":0.12},{"s":"A145","r":48,"v":0.12},{"s":"A54","r":48,"v":0.016},{"s":"A86","r":48,"v":3.2},{"s":"A152","r":48,"v":0.12},{"s":"A151","r":48,"v":10},{"s":"A99","r":48,"v":32},{"s":"A144","r":48,"v":5},{"s":"A95","r":48,"v":0.035},
{"s":"A37","r":49,"v":0.4},{"s":"A190","r":49,"v":0.035},{"s":"A117","r":49,"v":1.9},{"s":"A88","r":49,"v":0.4},{"s":"A54","r":49,"v":32},{"s":"A86","r":49,"v":5},{"s":"A41","r":49,"v":1.9},{"s":"A166","r":49,"v":0.26},{"s":"A160","r":49,"v":0.016},{"s":"A152","r":49,"v":0.12},{"s":"A151","r":49,"v":10},{"s":"A99","r":49,"v":1.4},{"s":"A64","r":49,"v":3.2},{"s":"A51","r":49,"v":0.016},{"s":"A95","r":49,"v":0.26},{"s":"A140","r":49,"v":5},{"s":"A131","r":49,"v":18},
{"s":"A37","r":50,"v":1},{"s":"A190","r":50,"v":0.59},{"s":"A117","r":50,"v":6.5},{"s":"A88","r":50,"v":1.4},{"s":"A132","r":50,"v":0.035},{"s":"A68","r":50,"v":0.035},{"s":"A54","r":50,"v":18},{"s":"A86","r":50,"v":10},{"s":"A41","r":50,"v":5},{"s":"A166","r":50,"v":0.59},{"s":"A160","r":50,"v":0.12},{"s":"A152","r":50,"v":0.4},{"s":"A151","r":50,"v":32},{"s":"A99","r":50,"v":1.9},{"s":"A64","r":50,"v":10},{"s":"A95","r":50,"v":1.4},{"s":"A140","r":50,"v":90},{"s":"A131","r":50,"v":40},
{"s":"A131","r":51,"v":18}
  ]},"transform":[{"lookup":"r","from":{"data":{"name":"taxa"},"key":"r","fields":["m"]}}],"mark":{"type":"rect","strokeWidth":0.4},"encoding":{
  "x":{"field":"s","type":"nominal","scale":{"domain":["A92","A85","A78","A39","A37","A209","A190","A181","A180","A183","A117","A145","A138","A93","A88","A132","A137","A83","A80","A68","A62","A61","A54","A86","A41","A112","A166","A160","A152","A151","A122","A99","A89","A144","A7","A76","A73","A64","A51","A95","A60","A22","A14","A149","A140","A131","A102","A128"],"paddingInner":0,"paddingOuter":0},"axis":{"title":null,"domain":false,"ticks":false,"labelAngle":-90,"labelFontSize":5.5,"labelColor":"#777","labelPadding":7,"labelOverlap":false}},
  "y":{"field":"m","type":"nominal","scale":{"domain":["Faecalibacterium prausnitzii","Prevotella copri","Escherichia coli","Eubacterium rectale","Prevotella stercorea","Ruminococcus bromii","Ruminococcus torques","Fusicatenibacter saccharivorans","Butyrivibrio crossotus","Clostridium sp. CAG 510","Phascolarctobacterium succinatutens","Roseburia faecis","Butyrivibrio sp. CAG 318","Prevotella sp. CAG 520","Prevotella sp. CAG 885","Clostridium sp. CAG 413","Bacteroides cellulosilyticus","Pseudomonas fragi","Eubacterium siraeum","Bacteroides massiliensis","Bacteroides thetaiotaomicron","Bacteroides caccae","Bacteroides uniformis","Parabacteroides distasonis","Bacteroides vulgatus","Barnesiella intestinihominis","Parabacteroides merdae","Listeria monocytogenes","Alistipes putredinis","Ruthenibacterium lactatiformans","Akkermansia muciniphila","Bacteroides xylanisolvens","Enterobacter cloacae complex","Bacteroides dorei","Alistipes finegoldii","Prevotella sp. CAG 873","Bacteroides fragilis","Streptococcus salivarius","Streptococcus parasanguinis","Prevotella sp. CAG 5226","Veillonella parvula","Pseudomonas lundensis","Pseudomonas helleri","Methanobrevibacter smithii","Pseudomonas fluorescens group","Enterococcus faecium","Enterococcus gallinarum","Enterococcus faecalis","Klebsiella variicola","Klebsiella pneumoniae","Morganella morganii"],"paddingInner":0,"paddingOuter":0},"axis":{"orient":"right","domain":false,"ticks":false,"labelFontSize":7.3,"labelFontStyle":"italic","labelColor":"#333","labelPadding":3,"labelOverlap":false,"title":"Microorganism","titleFontSize":9.5,"titleFontWeight":"bold","titleColor":"#111","titleAngle":0,"titleAlign":"left","titleBaseline":"middle","titleX":5,"titleY":-11}},
  "fill":{"field":"v","type":"quantitative","legend":null,"scale":{"type":"log","domain":[0.01,0.12,1,2.6,10,100],"range":["#000000","#0000ff","#00ffff","#888888","#ff0000","#ffff00"]}},
  "stroke":{"field":"v","type":"quantitative","legend":null,"scale":{"type":"log","domain":[0.01,0.12,1,2.6,10,100],"range":["#000000","#0000ff","#00ffff","#888888","#ff0000","#ffff00"]}}}},
  {"data":{"values":[{"a":"A151","b":"A144","p":"Eubacterium rectale","q":"Prevotella sp. CAG 5226"}]},"mark":{"type":"rect","fill":"transparent","stroke":"#1aa6a6","strokeWidth":1.2},"encoding":{"x":{"field":"a","type":"nominal"},"x2":{"field":"b"},"y":{"field":"p","type":"nominal"},"y2":{"field":"q"}}}
 ]}
]},
{"width":508,"height":10,"data":{"values":[{}]},"mark":{"type":"point","opacity":0},"encoding":{}},
{"spacing":0,"bounds":"flush","resolve":{"scale":{"color":"independent","stroke":"independent"}},"vconcat":[
 {"width":175,"height":64,"data":{"values":[{}]},"mark":{"type":"point","opacity":0},"encoding":{}},
 {"spacing":0,"bounds":"flush","resolve":{"scale":{"color":"independent","stroke":"independent"}},"hconcat":[
  {"width":2,"height":10,"data":{"values":[{}]},"mark":{"type":"point","opacity":0},"encoding":{}},
  {"title":{"text":"B","frame":"group","fontSize":13,"fontWeight":"bold","anchor":"start","offset":50,"dx":-20,"color":"black"},"width":173,"height":144,"view":{"fill":"#EBEBEB"},"layer":[
   {"data":{"values":[{"g":"CO/-","i":0,"x":-0.4,"y":0.442},{"g":"CO/-","i":1,"x":-0.361,"y":0.543},{"g":"CO/-","i":2,"x":-0.243,"y":0.58},{"g":"CO/-","i":3,"x":-0.086,"y":0.533},{"g":"CO/-","i":4,"x":0.123,"y":0.399},{"g":"CO/-","i":5,"x":0.358,"y":0.196},{"g":"CO/-","i":6,"x":0.541,"y":-0.047},{"g":"CO/-","i":7,"x":0.638,"y":-0.228},{"g":"CO/-","i":8,"x":0.607,"y":-0.355},{"g":"CO/-","i":9,"x":0.476,"y":-0.399},{"g":"CO/-","i":10,"x":0.28,"y":-0.319},{"g":"CO/-","i":11,"x":0.044,"y":-0.156},{"g":"CO/-","i":12,"x":-0.165,"y":0.043},{"g":"CO/-","i":13,"x":-0.335,"y":0.261},
   {"g":"CO/+","i":0,"x":-0.191,"y":0.297},{"g":"CO/+","i":1,"x":-0.139,"y":0.388},{"g":"CO/+","i":2,"x":-0.008,"y":0.377},{"g":"CO/+","i":3,"x":0.175,"y":0.243},{"g":"CO/+","i":4,"x":0.384,"y":0.025},{"g":"CO/+","i":5,"x":0.554,"y":-0.192},{"g":"CO/+","i":6,"x":0.607,"y":-0.312},{"g":"CO/+","i":7,"x":0.554,"y":-0.355},{"g":"CO/+","i":8,"x":0.384,"y":-0.301},{"g":"CO/+","i":9,"x":0.149,"y":-0.138},{"g":"CO/+","i":10,"x":-0.06,"y":0.062},{"g":"CO/+","i":11,"x":-0.165,"y":0.188},
   {"g":"HCFO/-","i":0,"x":-0.013,"y":0.576},{"g":"HCFO/-","i":1,"x":0.071,"y":0.514},{"g":"HCFO/-","i":2,"x":0.092,"y":0.37},{"g":"HCFO/-","i":3,"x":0.044,"y":0.116},{"g":"HCFO/-","i":4,"x":-0.06,"y":-0.21},{"g":"HCFO/-","i":5,"x":-0.217,"y":-0.572},{"g":"HCFO/-","i":6,"x":-0.348,"y":-0.815},{"g":"HCFO/-","i":7,"x":-0.413,"y":-0.844},{"g":"HCFO/-","i":8,"x":-0.478,"y":-0.736},{"g":"HCFO/-","i":9,"x":-0.486,"y":-0.5},{"g":"HCFO/-","i":10,"x":-0.413,"y":-0.174},{"g":"HCFO/-","i":11,"x":-0.269,"y":0.225},{"g":"HCFO/-","i":12,"x":-0.125,"y":0.496},
   {"g":"HCFO/+","i":0,"x":-0.591,"y":0.007},{"g":"HCFO/+","i":1,"x":-0.544,"y":0.188},{"g":"HCFO/+","i":2,"x":-0.413,"y":0.333},{"g":"HCFO/+","i":3,"x":-0.217,"y":0.424},{"g":"HCFO/+","i":4,"x":-0.008,"y":0.399},{"g":"HCFO/+","i":5,"x":0.175,"y":0.261},{"g":"HCFO/+","i":6,"x":0.293,"y":0.043},{"g":"HCFO/+","i":7,"x":0.337,"y":-0.174},{"g":"HCFO/+","i":8,"x":0.227,"y":-0.326},{"g":"HCFO/+","i":9,"x":0.044,"y":-0.446},{"g":"HCFO/+","i":10,"x":-0.217,"y":-0.475},{"g":"HCFO/+","i":11,"x":-0.413,"y":-0.391},{"g":"HCFO/+","i":12,"x":-0.544,"y":-0.192}]},
   "mark":{"type":"line","interpolate":"cardinal-closed","strokeWidth":0.8,"opacity":0.65},"encoding":{"order":{"field":"i"},"x":{"field":"x","type":"quantitative"},"y":{"field":"y","type":"quantitative"},"stroke":{"field":"g","type":"nominal","legend":null,"scale":{"domain":["HCFO/+","HCFO/-","CO/+","CO/-"],"range":["#C77CFF","#00BFC4","#7CAE00","#F8766D"]}}}},
   {"data":{"name":"pts"},"mark":{"type":"point","filled":true,"size":13,"opacity":1},"encoding":{"x":{"field":"x","type":"quantitative","scale":{"domain":[-0.656,0.7],"nice":false,"zero":false},"axis":{"values":[-0.4,0,0.4],"format":".1f","title":"Axis 1 [14.4%]","titleFontSize":5.5,"titleFontWeight":"normal","titleColor":"#333","titlePadding":1,"labelFontSize":5.5,"labelColor":"#4d4d4d","tickSize":2,"tickColor":"#555","domain":false,"labelPadding":1}},"y":{"field":"y","type":"quantitative","scale":{"domain":[-0.913,0.652],"nice":false,"zero":false},"axis":{"values":[-0.5,0,0.5],"format":".1f","title":"Axis 2 [11.7%]","titleFontSize":5.5,"titleFontWeight":"normal","titleColor":"#333","titlePadding":1,"labelFontSize":5.5,"labelColor":"#4d4d4d","tickSize":2,"tickColor":"#555","domain":false,"labelPadding":1}},"color":{"field":"g","type":"nominal","scale":{"domain":["CO/-","CO/+","HCFO/-","HCFO/+"],"range":["#F8766D","#7CAE00","#00BFC4","#C77CFF"]},"legend":{"title":"Group","orient":"none","legendX":175,"legendY":39,"titleFontSize":9.5,"titleFontWeight":"bold","titleColor":"#222","titleAnchor":"middle","labelFontSize":8,"labelColor":"#333","symbolType":"circle","symbolSize":70,"symbolOpacity":1,"labelOffset":2,"rowPadding":1,"titlePadding":3}}}}
  ]}
 ]},
 {"width":175,"height":177,"data":{"values":[{}]},"mark":{"type":"point","opacity":0},"encoding":{}},
 {"title":{"text":"C","frame":"group","fontSize":13,"fontWeight":"bold","anchor":"start","offset":6,"dx":-19,"color":"black"},"width":175,"height":142,"view":{"fill":"#EBEBEB"},"layer":[
  {"data":{"values":[{"o":"CO","i":0,"x":-0.282,"y":0.359},{"o":"CO","i":1,"x":-0.261,"y":0.432},{"o":"CO","i":2,"x":-0.184,"y":0.476},{"o":"CO","i":3,"x":-0.054,"y":0.441},{"o":"CO","i":4,"x":0.134,"y":0.319},{"o":"CO","i":5,"x":0.346,"y":0.13},{"o":"CO","i":6,"x":0.511,"y":-0.059},{"o":"CO","i":7,"x":0.595,"y":-0.235},{"o":"CO","i":8,"x":0.558,"y":-0.33},{"o":"CO","i":9,"x":0.452,"y":-0.362},{"o":"CO","i":10,"x":0.275,"y":-0.303},{"o":"CO","i":11,"x":0.064,"y":-0.141},{"o":"CO","i":12,"x":-0.125,"y":0.049},{"o":"CO","i":13,"x":-0.242,"y":0.224},
  {"o":"HCFO","i":0,"x":-0.525,"y":-0.181},{"o":"HCFO","i":1,"x":-0.506,"y":-0.005},{"o":"HCFO","i":2,"x":-0.419,"y":0.211},{"o":"HCFO","i":3,"x":-0.266,"y":0.373},{"o":"HCFO","i":4,"x":-0.101,"y":0.454},{"o":"HCFO","i":5,"x":0.04,"y":0.441},{"o":"HCFO","i":6,"x":0.146,"y":0.319},{"o":"HCFO","i":7,"x":0.174,"y":0.157},{"o":"HCFO","i":8,"x":0.134,"y":-0.114},{"o":"HCFO","i":9,"x":0.028,"y":-0.357},{"o":"HCFO","i":10,"x":-0.101,"y":-0.519},{"o":"HCFO","i":11,"x":-0.242,"y":-0.581},{"o":"HCFO","i":12,"x":-0.407,"y":-0.505},{"o":"HCFO","i":13,"x":-0.501,"y":-0.357}]},
  "mark":{"type":"line","interpolate":"cardinal-closed","strokeWidth":0.8,"opacity":0.65},"encoding":{"order":{"field":"i"},"x":{"field":"x","type":"quantitative"},"y":{"field":"y","type":"quantitative"},"stroke":{"field":"o","type":"nominal","legend":null,"scale":{"domain":["HCFO","CO"],"range":["#00BFC4","#F8766D"]}}}},
  {"data":{"name":"pts"},"mark":{"type":"point","filled":true,"size":13,"opacity":1},"encoding":{"x":{"field":"x","type":"quantitative","scale":{"domain":[-0.58,0.654],"nice":false,"zero":false},"axis":{"values":[-0.3,0,0.3,0.6],"format":".1f","title":"Axis 1 [14.4%]","titleFontSize":5.5,"titleFontWeight":"normal","titleColor":"#333","titlePadding":1,"labelFontSize":5.5,"labelColor":"#4d4d4d","tickSize":2,"tickColor":"#555","domain":false,"labelPadding":1}},"y":{"field":"y","type":"quantitative","scale":{"domain":[-0.624,0.527],"nice":false,"zero":false},"axis":{"values":[-0.6,-0.3,0,0.3],"format":".1f","title":"Axis 2 [11.7%]","titleFontSize":5.5,"titleFontWeight":"normal","titleColor":"#333","titlePadding":1,"labelFontSize":5.5,"labelColor":"#4d4d4d","tickSize":2,"tickColor":"#555","domain":false,"labelPadding":1}},"color":{"field":"o","type":"nominal","scale":{"domain":["CO","HCFO"],"range":["#F8766D","#00BFC4"]},"legend":{"title":"Onset","orient":"none","legendX":177,"legendY":52,"titleFontSize":9.5,"titleFontWeight":"bold","titleColor":"#222","titleAnchor":"middle","labelFontSize":9,"labelColor":"#333","symbolType":"circle","symbolSize":70,"symbolOpacity":1,"labelOffset":2,"rowPadding":1,"titlePadding":3}}}}
 ]}
]},
{"width":218,"height":10,"data":{"values":[{}]},"mark":{"type":"point","opacity":0},"encoding":{}}
]}
